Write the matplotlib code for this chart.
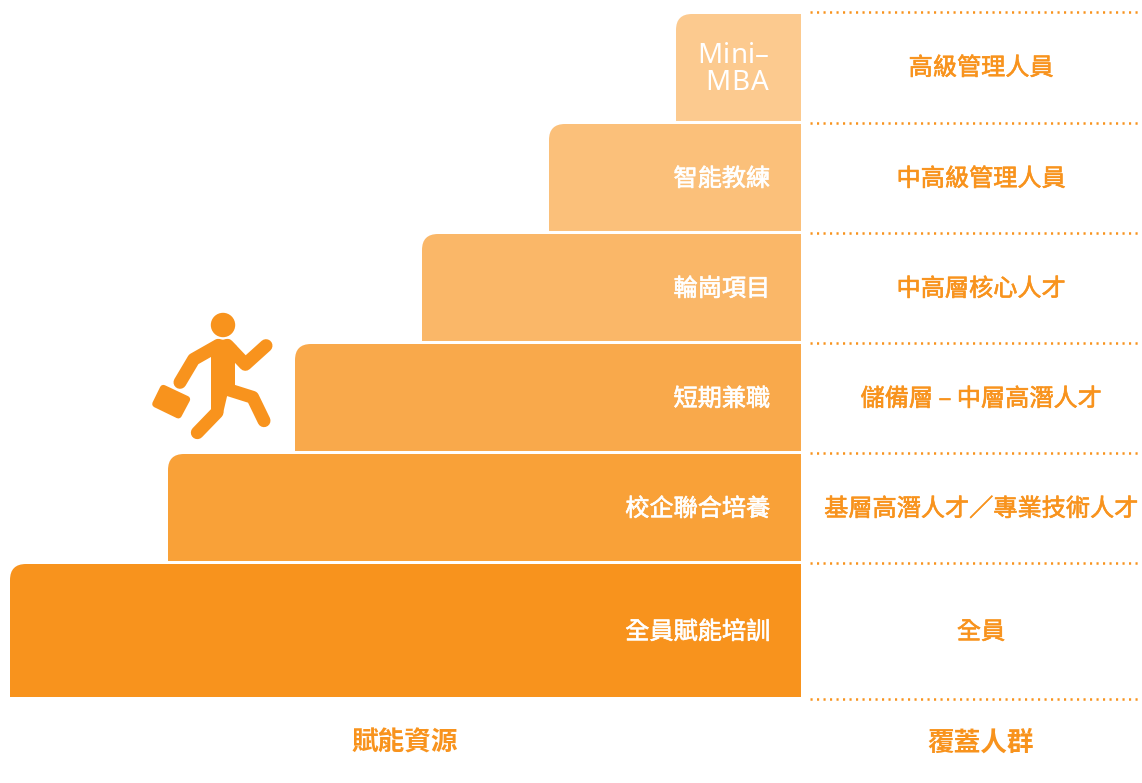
import numpy as np
import matplotlib
matplotlib.use("Agg")
import matplotlib.pyplot as plt
import matplotlib.patheffects as pe
from matplotlib.path import Path
from matplotlib.patches import PathPatch, Circle

plt.rcParams["font.family"] = ["Noto Sans CJK TC", "DejaVu Sans"]

# top step first
resources = ["Mini–\nMBA", "智能教練", "輪崗項目", "短期兼職", "校企聯合培養", "全員賦能培訓"]
audiences = ["高級管理人員", "中高級管理人員", "中高層核心人才",
             "儲備層 – 中層高潛人才", "基層高潛人才／專業技術人才", "全員"]
header_left = "賦能資源"
header_right = "覆蓋人群"

# layout, all in pixels
W, H = 1142, 783
RIGHT = 801
LEFTS = [676, 549, 422, 295, 168, 10]
TOPS = [14, 124, 234, 344, 454, 564]
BOTTOMS = [121, 231, 341, 451, 561, 697]
COLORS = ["#FCCA8F", "#FBC07A", "#FAB768", "#F9A94B", "#F9A138", "#F8931D"]
RULES_Y = [12, 123, 233, 343, 453, 563, 699]
ORANGE = "#F8931D"
RADIUS = 16


def step_path(x0, x1, y0, y1, r):
    """Rectangle with only the top left corner rounded."""
    verts = [(x0, y1), (x0, y0 + r), (x0, y0), (x0 + r, y0), (x1, y0), (x1, y1), (x0, y1)]
    codes = [Path.MOVETO, Path.LINETO, Path.CURVE3, Path.CURVE3, Path.LINETO, Path.LINETO, Path.CLOSEPOLY]
    return Path(verts, codes)


def label(ax, x, y, s, color, ha):
    # thicken the regular weight a little
    t = ax.text(x, y, s, color=color, fontsize=17.4, ha=ha, va="center")
    t.set_path_effects([pe.withStroke(linewidth=0.45, foreground=color)])


def spaced(ax, right, y, s, size, gap):
    # latin letters set with extra tracking, placed from the right edge
    x = right
    r = ax.figure.canvas.get_renderer()
    for ch in reversed(s):
        t = ax.text(x, y, ch, color="white", fontsize=size, family="Noto Sans", ha="right", va="baseline")
        x -= t.get_window_extent(r).width + gap


def draw_runner(ax):
    # outline drawn at 3x around (140, 300), scaled back here
    def px(pts):
        a = np.array(pts, dtype=float)
        return a[:, 0] / 3 + 140, a[:, 1] / 3 + 300

    def limb(pts, width=13):
        x, y = px(pts)
        ax.plot(x, y, color=ORANGE, lw=width * 0.72, solid_capstyle="round", solid_joinstyle="round")

    cx, cy = px([(249, 75)])
    ax.add_patch(Circle((cx[0], cy[0]), 12.2, fc=ORANGE, ec="none"))

    x, y = px([(228, 119), (270, 119), (290, 138), (285, 190), (285, 255), (262, 285),
               (248, 345), (213, 335), (213, 165), (190, 150)])
    ax.fill(x, y, color=ORANGE, lw=0)

    limb([(262, 136), (316, 193), (378, 137)])
    limb([(235, 136), (161, 178), (120, 247)])
    limb([(262, 268), (338, 292), (372, 362)])
    limb([(231, 337), (172, 398)])

    x, y = px([(70, 265), (140, 298), (115, 345), (47, 312)])
    ax.fill(x, y, color=ORANGE, ec=ORANGE, lw=5, joinstyle="round")


fig = plt.figure(figsize=(W / 100, H / 100), dpi=100)
ax = fig.add_axes([0, 0, 1, 1])
ax.set_xlim(0, W)
ax.set_ylim(H, 0)
ax.axis("off")

for name, who, x0, y0, y1, c in zip(resources, audiences, LEFTS, TOPS, BOTTOMS, COLORS):
    ax.add_patch(PathPatch(step_path(x0, RIGHT, y0, y1, RADIUS), fc=c, ec="none"))
    ym = (y0 + y1) / 2 + 1.5
    if "\n" in name:
        top, bottom = name.split("\n")
        spaced(ax, 769, 63, top, 20, 0.3)
        spaced(ax, 769, 89.5, bottom, 20, 1.5)
    else:
        label(ax, 770, ym, name, "white", "right")
    label(ax, 981, ym - (y0 == 14) * 1, who, ORANGE, "center")

for y in RULES_Y:
    ax.plot([810, 1140], [y, y], color=ORANGE, lw=1.8, linestyle=(0, (0.85, 1.75)))

ax.text(405, 743.5, header_left, color=ORANGE, fontsize=19.2, fontweight="bold", ha="center", va="center")
ax.text(981, 743.5, header_right, color=ORANGE, fontsize=19.2, fontweight="bold", ha="center", va="center")

draw_runner(ax)

fig.savefig("out.png", dpi=100)
